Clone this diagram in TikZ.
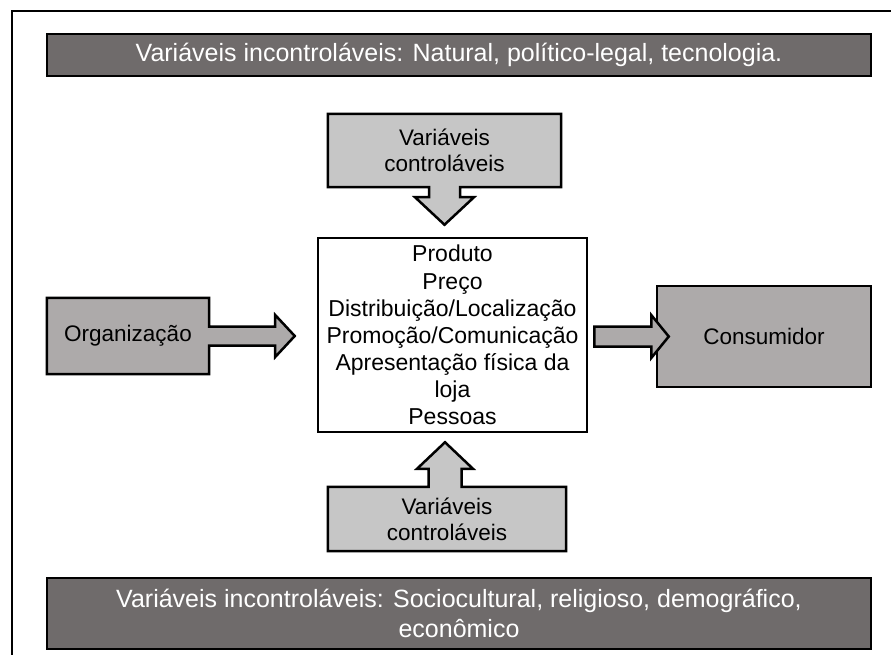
\documentclass[tikz,border=0pt]{standalone}
\usepackage{fontspec}
\setmainfont{Liberation Sans}
\usetikzlibrary{calc,backgrounds}
\definecolor{bandgray}{HTML}{6F6B6B}
\definecolor{sidegray}{HTML}{ADAAAA}
\definecolor{ctrlgray}{HTML}{C6C6C6}
\begin{document}
\begin{tikzpicture}[x=1pt,y=-1pt,
  outline/.style={draw=black, line width=2.5pt, line join=miter},
  band/.style={outline, fill=bandgray, text=white, inner sep=0pt, align=center,
    font=\fontsize{25}{30}\selectfont},
  caption/.style={inner sep=0pt, align=center, font=\fontsize{22.5}{26}\selectfont},
  mixbox/.style={outline, fill=white, inner sep=0pt, align=center,
    font=\fontsize{23}{27.1}\selectfont},
  sidebox/.style={outline, fill=sidegray, inner sep=0pt, align=center,
    font=\fontsize{22.5}{26}\selectfont}]
\useasboundingbox (0,0) rectangle (891,655);
\clip (0,0) rectangle (891,655);

% outer frame
\draw[line width=2pt] (12,11) rectangle (910,680);

% environment bands
\node[band, minimum width=824, minimum height=42] (bandtop) at (459,55)
  {Variáveis incontroláveis: Natural, político-legal, tecnologia.};
\node[band, minimum width=824, minimum height=71] (bandbot) at (459,613.5)
  {Variáveis incontroláveis: Sociocultural, religioso, demográfico,\\econômico};

% marketing mix
\node[mixbox, minimum width=269, minimum height=194] (mix) at (452.5,335)
  {Produto\\Preço\\Distribuição/Localização\\Promoção/Comunicação\\Apresentação física da\\loja\\Pessoas};

% text of the arrow-shaped boxes (outlines drawn behind)
\node[caption, minimum width=162, minimum height=76] (org) at (128,336) {Organização};
\node[caption, minimum width=233, minimum height=73] (topc) at (444.5,150.5) {Variáveis\\controláveis};
\node[caption, minimum width=238, minimum height=64] (botc) at (447,519) {Variáveis\\controláveis};

% consumer
\node[sidebox, minimum width=214, minimum height=101] (con) at (764,336.5) {Consumidor};
\coordinate (s) at ($(con.west -| mix.east)+(6,0)$);
\draw[outline, fill=sidegray] ($(s)+(0,-10)$) -- ++(57,0) -- ++(0,-11.5)
  -- ($(con.west)+(13,0)$) -- ($(s)+(57,21.5)$) -- ++(0,-11.5) -- ($(s)+(0,10)$) -- cycle;

\begin{scope}[on background layer]
  \fill[white] (0,0) rectangle (891,655);
  % organization box with its arrow
  \draw[outline, fill=sidegray] (org.north west) -- (org.north east)
    -- ($(org.east)+(0,-9.5)$) -- ($(org.east)+(66,-9.5)$) -- ($(org.east)+(66,-21)$)
    -- ($(org.east -| mix.west)+(-22,0)$)
    -- ($(org.east)+(66,21)$) -- ($(org.east)+(66,9.5)$) -- ($(org.east)+(0,9.5)$)
    -- (org.south east) -- (org.south west) -- cycle;
  % controllable variables, above
  \draw[outline, fill=ctrlgray] (topc.south west) -- (topc.north west) -- (topc.north east)
    -- (topc.south east) -- ($(topc.south)+(15.5,0)$) -- ($(topc.south)+(15.5,10)$)
    -- ($(topc.south)+(29.5,10)$) -- ($(topc.south |- mix.north)+(0,-12)$)
    -- ($(topc.south)+(-29.5,10)$) -- ($(topc.south)+(-15.5,10)$)
    -- ($(topc.south)+(-15.5,0)$) -- cycle;
  % controllable variables, below
  \draw[outline, fill=ctrlgray] (botc.north west) -- ($(botc.north)+(-18.5,0)$)
    -- ($(botc.north)+(-18.5,-18)$) -- ($(botc.north)+(-30,-18)$)
    -- ($(botc.north |- mix.south)+(-2,9)$)
    -- ($(botc.north)+(26,-18)$) -- ($(botc.north)+(14.5,-18)$)
    -- ($(botc.north)+(14.5,0)$) -- (botc.north east) -- (botc.south east)
    -- (botc.south west) -- cycle;
\end{scope}
\end{tikzpicture}
\end{document}
